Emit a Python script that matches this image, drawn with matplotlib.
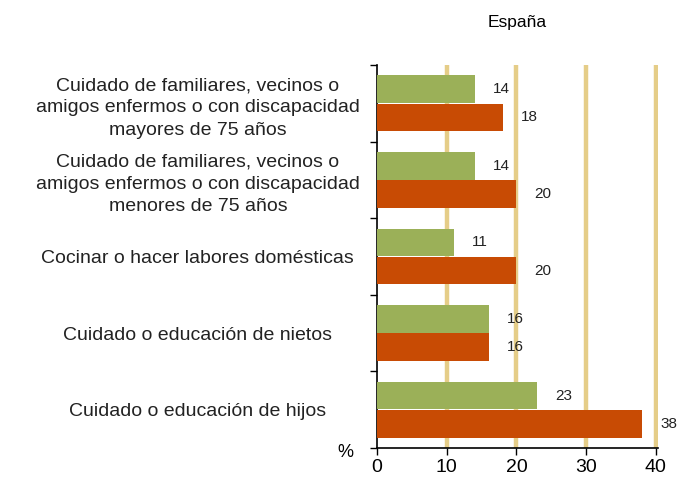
import numpy as np
import matplotlib.pyplot as plt

plt.rcParams['font.family'] = ['Liberation Sans', 'DejaVu Sans']

# data, top to bottom
categorias = ['Cuidado de familiares, vecinos o\namigos enfermos o con discapacidad\nmayores de 75 años',
              'Cuidado de familiares, vecinos o\namigos enfermos o con discapacidad\nmenores de 75 años',
              'Cocinar o hacer labores domésticas',
              'Cuidado o educación de nietos',
              'Cuidado o educación de hijos']
verde = [14, 14, 11, 16, 23]
naranja = [18, 20, 20, 16, 38]
xticks = [0, 10, 20, 30, 40]

c_verde = '#9bb058'
c_naranja = '#c84b04'
c_grid = '#e5cd88'

W, H = 686, 480
fig = plt.figure(figsize=(W/100, H/100), dpi=100)
ax = fig.add_axes([377/W, (H-448)/H, 281/W, 383/H])

y = np.arange(len(categorias))
h = 0.36
off = 0.185
ax.barh(y - off, verde, height=h, color=c_verde, zorder=3)
ax.barh(y + off, naranja, height=h, color=c_naranja, zorder=3)

for i in range(len(categorias)):
    ax.annotate(str(verde[i]), (verde[i], y[i] - off), xytext=(13, 0), textcoords='offset points',
                ha='left', va='center', fontsize=11, color='#222222')
    ax.annotate(str(naranja[i]), (naranja[i], y[i] + off), xytext=(13, 0), textcoords='offset points',
                ha='left', va='center', fontsize=11, color='#222222')

ax.set_xlim(0, 40.3)
ax.set_ylim(len(categorias) - 0.5, -0.5)
ax.set_xticks(xticks)
ax.set_xticklabels([str(t) for t in xticks], fontsize=14)
for t in xticks[1:]:
    ax.axvline(t, color=c_grid, lw=3.2, zorder=1)

ax.set_yticks(y)
ax.set_yticklabels(categorias, fontsize=14, ha='center', multialignment='center',
                   color='#222222', linespacing=1.4)
ax.tick_params(axis='y', which='major', length=0, pad=129)
ax.set_yticks(np.arange(len(categorias) + 1) - 0.5, minor=True)
ax.tick_params(axis='y', which='minor', length=5, width=1)
ax.tick_params(axis='x', length=5, width=1, pad=3)

for s in ['top', 'right']:
    ax.spines[s].set_visible(False)
for s in ['left', 'bottom']:
    ax.spines[s].set_linewidth(1.2)

ax.text(-0.114, -0.012, '%', transform=ax.transAxes, ha='center', va='center', fontsize=13)
fig.text(517/W, 1 - 22/H, 'España', ha='center', va='center', fontsize=12.5)

fig.savefig('out.png', dpi=100)
